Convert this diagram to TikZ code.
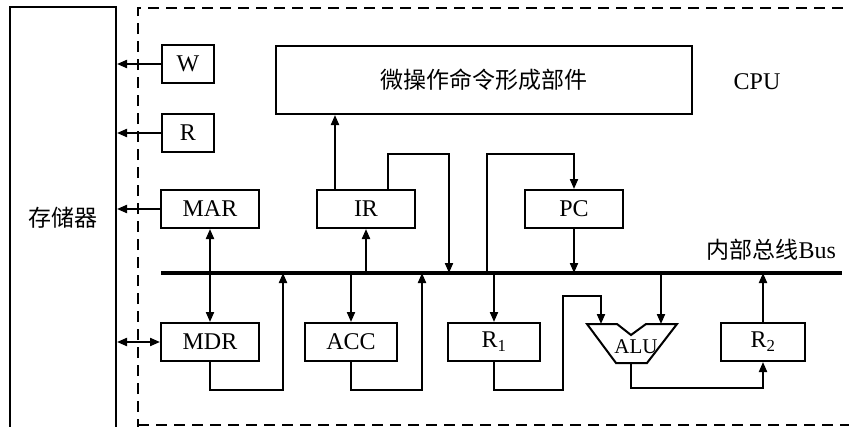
\documentclass[tikz,border=0pt]{standalone}
\usepackage{fontspec}
\setmainfont{Liberation Serif}
\newfontfamily\cjk{Noto Sans CJK SC}
\usetikzlibrary{arrows.meta}
\begin{document}
\begin{tikzpicture}[x=1pt,y=-1pt,line width=2pt,
  >={Triangle[length=10pt,width=8pt]},
  reg/.style={draw,inner sep=0pt,minimum height=38pt,font=\fontsize{24}{28}\selectfont},
  lbl/.style={inner sep=0pt,font=\fontsize{24}{28}\selectfont},
  busline/.style={line width=4pt},
  cpubox/.style={dash pattern=on 11pt off 7pt,line width=2pt}]
\useasboundingbox (0,0) rectangle (849,426);
% memory
\node[draw,minimum width=106pt,minimum height=422pt,inner sep=0pt,font=\cjk\fontsize{23}{26}\selectfont] (mem) at (63,218) {存储器};
% CPU dashed frame
\draw[cpubox] (138,430) -- (138,8) -- (860,8);
\draw[cpubox] (138,425) -- (860,425);
% registers
\node[reg,minimum width=52pt] (W) at (188,64) {W};
\node[reg,minimum width=52pt] (R) at (188,133) {R};
\node[reg,minimum width=98pt] (MAR) at (210,209) {MAR};
\node[reg,minimum width=98pt] (MDR) at (210,342) {MDR};
\node[reg,minimum width=92pt] (ACC) at (351,342) {ACC};
\node[reg,minimum width=92pt] (R1) at (494,342) {R\textsubscript{1}};
\node[reg,minimum width=84pt] (R2) at (763,342) {R\textsubscript{2}};
\node[reg,minimum width=98pt] (IR) at (366,209) {IR};
\node[reg,minimum width=98pt] (PC) at (574,209) {PC};
\node[reg,minimum width=416pt,minimum height=68pt,font=\cjk\fontsize{23}{26}\selectfont] (top) at (484,80) {微操作命令形成部件};
\node[lbl] (cpu) at (757,82) {CPU};
% ALU
\draw (587,324) -- (617,324) -- (631,335) -- (646,324) -- (677,324) -- (647,363) -- (616,363) -- cycle;
\node[lbl,font=\fontsize{21}{24}\selectfont] (alu) at (636,347) {ALU};
\coordinate (aluL) at (601,324);
\coordinate (aluR) at (661,324);
\coordinate (aluO) at (631,363);
% bus
\coordinate (busL) at (161,273);
\coordinate (busR) at (842,273);
\draw[busline] (busL) -- (busR);
\node[lbl,anchor=base east] (buslbl) at (837,258) {{\cjk\fontsize{23}{26}\selectfont 内部总线}Bus};
\coordinate (b283) at (283,273);
\coordinate (b422) at (422,273);
\coordinate (b449) at (449,273);
\coordinate (b487) at (487,273);
\coordinate (b661) at (661,273);
% memory side
\draw[->] (W.west) -- (W.west -| mem.east);
\draw[->] (R.west) -- (R.west -| mem.east);
\draw[->] (MAR.west) -- (MAR.west -| mem.east);
\draw[<->] (MDR.west) -- (MDR.west -| mem.east);
\draw[<->] (MAR.south) -- (MDR.north);
% MDR to bus
\draw[->] (MDR.south) -- ++(0,28) -| (b283);
% IR
\draw[->] ([xshift=-31pt]IR.north) -- ([xshift=-31pt]IR.north |- top.south);
\draw[->] (IR.south |- busL) -- (IR.south);
\draw[->] ([xshift=22pt]IR.north) -- ++(0,-35) -| (b449);
% PC
\draw[->] (b487) |- ([yshift=35pt]PC.north) -- (PC.north);
\draw[->] (PC.south) -- (PC.south |- busL);
% ACC
\draw[->] (ACC.north |- busL) -- (ACC.north);
\draw[->] (ACC.south) -- ++(0,28) -| (b422);
% R1
\draw[->] (R1.north |- busL) -- (R1.north);
\draw[->] (R1.south) -- ++(0,28) -| (563,296) -| (aluL);
% ALU
\draw[->] (b661) -- (aluR);
\draw[->] (aluO) -- ++(0,25) -| (R2.south);
\draw[->] (R2.north) -- (R2.north |- busL);
\end{tikzpicture}
\end{document}
